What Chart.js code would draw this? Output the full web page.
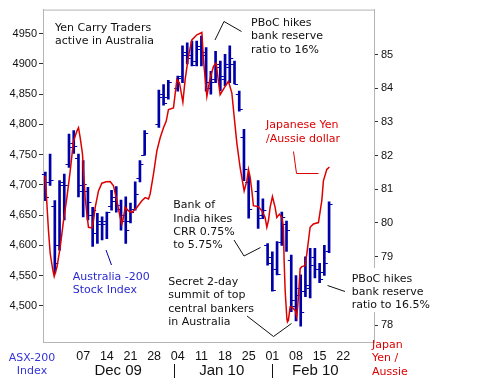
<!DOCTYPE html>
<html>
<head>
<meta charset="utf-8">
<script src="https://cdn.jsdelivr.net/npm/chart.js@4/dist/chart.umd.min.js"></script>
<style>
  body { margin: 0; background: #fff; }
  canvas { display: block; }
</style>
</head>
<body>
<canvas id="graph" width="484" height="387"></canvas>
<script>
// x axis = weekday index, 0 = Mon 23 Nov 2009 (holidays keep their slot)
const weekTickDays = [10, 15, 20, 25, 30, 35, 40, 45, 50, 55, 60, 65];
const weekTickLabels = ["07", "14", "21", "28", "04", "11", "18", "25", "01", "08", "15", "22"];
const monthLabels = ["Dec 09", "Jan 10", "Feb 10"];
const monthLabelDays = [17.4, 39.3, 59.1];
const monthBreakDays = [29.1, 50];

// ASX-200 daily bars
const asxDays = [2, 3, 4, 5, 6, 7, 8, 9, 10, 11, 12, 13, 14, 15, 16, 17, 18, 19, 20, 21, 22, 23,
  26, 27, 28, 30, 31, 32, 33, 34, 35, 36, 37, 38, 39, 40, 41, 42, 43, 44, 45,
  47, 48, 49, 50, 51, 52, 53, 54, 55, 56, 57, 58, 59, 60, 61, 62];
const asxOpen = [4718, 4705, 4665, 4600, 4705, 4735, 4770, 4745, 4690, 4690, 4650, 4620, 4640, 4640, 4665, 4680, 4660, 4650, 4640, 4660, 4712, 4750,
  4800, 4850, 4845, 4860, 4880, 4920, 4915, 4905, 4930, 4915, 4860, 4875, 4895, 4875, 4895, 4900, 4850, 4780, 4705,
  4690, 4650, 4600, 4580, 4560, 4605, 4635, 4575, 4500, 4530, 4525, 4530, 4580, 4560, 4555, 4590];
const asxHigh = [4721, 4751, 4674, 4707, 4718, 4784, 4790, 4751, 4740, 4696, 4663, 4653, 4647, 4655, 4691, 4697, 4675, 4680, 4670, 4705, 4740, 4790,
  4857, 4866, 4873, 4880, 4930, 4935, 4938, 4938, 4946, 4927, 4888, 4921, 4905, 4916, 4930, 4905, 4855, 4792, 4718,
  4707, 4677, 4603, 4589, 4606, 4655, 4640, 4584, 4550, 4551, 4581, 4595, 4595, 4570, 4600, 4672];
const asxLow = [4674, 4699, 4554, 4592, 4642, 4729, 4752, 4680, 4647, 4642, 4598, 4603, 4609, 4611, 4658, 4655, 4625, 4603, 4637, 4658, 4705, 4749,
  4795, 4832, 4842, 4855, 4869, 4900, 4897, 4897, 4897, 4855, 4850, 4869, 4856, 4864, 4869, 4867, 4822, 4707, 4645,
  4628, 4644, 4567, 4524, 4551, 4600, 4590, 4490, 4475, 4466, 4515, 4513, 4546, 4538, 4550, 4588];
const asxClose = [4680, 4708, 4570, 4700, 4699, 4762, 4765, 4700, 4702, 4672, 4658, 4636, 4636, 4655, 4674, 4666, 4640, 4625, 4655, 4685, 4735, 4785,
  4845, 4835, 4870, 4876, 4915, 4910, 4899, 4925, 4920, 4870, 4870, 4900, 4880, 4900, 4910, 4867, 4825, 4727, 4660,
  4645, 4658, 4570, 4526, 4553, 4647, 4625, 4510, 4518, 4490, 4535, 4567, 4560, 4545, 4570, 4668];

// Japanese Yen / Aussie dollar
const yenDays = [1.97, 2.32, 2.66, 3.02, 3.59, 3.87, 4.44, 5.14, 5.84, 6.55,
  7.25, 7.95, 8.67, 9.01, 9.37, 9.85, 10.06, 10.42, 10.78, 11.12,
  11.84, 12.18, 12.54, 13.23, 13.95, 14.86, 15.71, 16.41, 17.12, 17.82,
  18.18, 18.52, 18.88, 19.58, 20.30, 21.35, 22.41, 23.11, 23.81, 24.16,
  24.86, 25.58, 26.28, 26.98, 27.55, 28.03, 29.09, 29.81, 30.36, 31.08,
  31.56, 32.26, 32.98, 34.04, 35.10, 35.43, 36.15, 36.85, 37.55, 38.12,
  38.96, 40.02, 40.72, 41.44, 41.92, 42.49, 43.19, 44.04, 44.61, 44.95,
  45.31, 45.67, 46.00, 47.06, 47.78, 48.48, 48.84, 49.18, 49.53, 50.02,
  50.59, 50.95, 51.50, 52.01, 52.35, 52.49, 52.71, 53.07, 53.19, 53.40,
  53.76, 54.12, 54.82, 55.18, 55.52, 55.88, 56.24, 56.93, 57.29, 57.99,
  58.69, 59.75, 60.46, 60.80, 61.52, 62.07];
const yenValues = [81.40, 80.57, 79.77, 79.09, 78.59, 78.41, 78.68, 79.28, 80.07, 80.75,
  81.54, 82.43, 82.73, 82.83, 82.53, 82.05, 81.54, 80.75, 80.27, 79.87,
  79.85, 80.07, 80.46, 80.95, 81.18, 81.22, 81.23, 81.10, 80.66, 80.16,
  79.97, 80.16, 80.46, 80.36, 80.31, 80.46, 80.66, 80.75, 80.71, 80.86,
  81.45, 82.14, 82.53, 82.83, 83.02, 83.37, 83.42, 84.26, 84.16, 83.59,
  84.26, 84.95, 85.44, 85.59, 85.66, 84.85, 83.76, 84.30, 84.65, 84.75,
  83.81, 84.06, 84.21, 83.86, 83.17, 82.38, 81.64, 80.95, 81.25, 81.59,
  81.35, 80.95, 80.51, 80.48, 80.36, 80.16, 79.87, 80.07, 80.46, 80.78,
  80.46, 80.16, 80.26, 80.16, 79.87, 78.88, 77.99, 77.16, 77.06, 77.11,
  77.50, 77.50, 77.40, 77.20, 77.80, 78.64, 78.70, 78.73, 79.08, 79.87,
  79.97, 80.01, 80.66, 81.25, 81.59, 81.66];

// axis ticks
const asxTickValues = [4500, 4550, 4600, 4650, 4700, 4750, 4800, 4850, 4900, 4950];
const asxTickLabels = ["4,500", "4,550", "4,600", "4,650", "4,700", "4,750", "4,800", "4,850", "4900", "4950"];
// the "78" label sits lower in the original, clear of the PBoC note
const yenTickValues = [76.96, 79, 80, 81, 82, 83, 84, 85];
const yenTickLabels = ["78", "79", "80", "81", "82", "83", "84", "85"];

const BLUE = "#0000a8";
const RED = "#dd0000";
const NOTE_FONT = "11px 'DejaVu Sans'";

// open / close ticks of the bars
const ohlcTicks = {
  id: "ohlcTicks",
  afterDatasetDraw(chart, args) {
    if (args.index !== 0) return;
    const { ctx, scales } = chart;
    ctx.save();
    ctx.strokeStyle = BLUE;
    ctx.lineWidth = 1;
    asxDays.forEach((d, i) => {
      const px = scales.x.getPixelForValue(d);
      const yo = Math.round(scales.y.getPixelForValue(asxOpen[i])) + 0.5;
      const yc = Math.round(scales.y.getPixelForValue(asxClose[i])) + 0.5;
      ctx.beginPath();
      ctx.moveTo(px - 3.5, yo);
      ctx.lineTo(px, yo);
      ctx.moveTo(px, yc);
      ctx.lineTo(px + 3.5, yc);
      ctx.stroke();
    });
    ctx.restore();
  },
};

function polyline(ctx, pts, color) {
  ctx.strokeStyle = color;
  ctx.lineWidth = 1;
  ctx.beginPath();
  pts.forEach((p, i) => (i ? ctx.lineTo(p[0], p[1]) : ctx.moveTo(p[0], p[1])));
  ctx.stroke();
}

function lines(ctx, texts, x, y, color, align) {
  ctx.fillStyle = color;
  ctx.textAlign = align || "left";
  texts.forEach((t, i) => ctx.fillText(t, x, y + i * 13.3));
}

const notes = {
  id: "notes",
  afterDraw(chart) {
    const { ctx, chartArea, scales } = chart;
    ctx.save();
    // top frame line
    ctx.strokeStyle = "#b4b4b4";
    ctx.lineWidth = 1;
    ctx.beginPath();
    ctx.moveTo(chartArea.left, chartArea.top + 0.5);
    ctx.lineTo(chartArea.right, chartArea.top + 0.5);
    ctx.stroke();

    // month row
    ctx.font = "15px 'Liberation Sans'";
    ctx.fillStyle = "#111";
    ctx.textAlign = "center";
    monthLabels.forEach((m, i) => ctx.fillText(m, scales.x.getPixelForValue(monthLabelDays[i]), 375));
    ctx.strokeStyle = "#111";
    monthBreakDays.forEach((d) => {
      const px = Math.round(scales.x.getPixelForValue(d)) + 0.5;
      ctx.beginPath();
      ctx.moveTo(px, 364);
      ctx.lineTo(px, 378);
      ctx.stroke();
    });

    ctx.font = NOTE_FONT;
    lines(ctx, ["Yen Carry Traders", "active in Australia"], 55, 30.7, "#111");
    lines(ctx, ["PBoC hikes", "bank reserve", "ratio to 16%"], 251, 26, "#111");
    polyline(ctx, [[215, 40], [224, 21.5], [241.5, 31.5]], "#111");

    lines(ctx, ["Japanese Yen", "/Aussie dollar"], 266, 128.3, RED);
    polyline(ctx, [[293.5, 151.5], [296.5, 173.5], [318.5, 173.5]], RED);

    lines(ctx, ["Bank of", "India hikes", "CRR 0.75%", "to 5.75%"], 173.3, 208.3, "#111");
    polyline(ctx, [[234, 240], [244, 256], [260.5, 247.5]], "#111");

    lines(ctx, ["Australia -200", "Stock Index"], 72.7, 280, "#2a2ad0");
    polyline(ctx, [[106, 250], [111.5, 265]], BLUE);

    lines(ctx, ["Secret 2-day", "summit of top", "central bankers", "in Australia"], 168.3, 285, "#111");
    polyline(ctx, [[247, 316], [273.5, 336.5], [291.5, 323.5]], "#111");

    ctx.fillStyle = "#fff";
    ctx.fillRect(349, 268, 86, 44);
    lines(ctx, ["PBoC hikes", "bank reserve", "ratio to 16.5%"], 351.7, 281.7, "#111");
    polyline(ctx, [[327.5, 285.5], [345, 291.5]], "#111");

    lines(ctx, ["ASX-200", "Index"], 32, 361, "#3434d8", "center");
    lines(ctx, ["Japan", "Yen /", "Aussie"], 372, 348, RED);
    ctx.restore();
  },
};

const graph = document.getElementById("graph");

new Chart(graph, {
  type: "bar",
  data: {
    datasets: [
      {
        type: "bar",
        data: asxDays.map((d, i) => ({ x: d, y: [asxLow[i], asxHigh[i]] })),
        backgroundColor: BLUE,
        barThickness: 2,
        grouped: false,
        yAxisID: "y",
        order: 2,
      },
      {
        type: "line",
        data: yenDays.map((d, i) => ({ x: d, y: yenValues[i] })),
        borderColor: RED,
        borderWidth: 1.5,
        pointRadius: 0,
        tension: 0,
        yAxisID: "y1",
        order: 1,
      },
    ],
  },
  options: {
    responsive: false,
    animation: false,
    layout: { padding: { top: 8 } },
    plugins: { legend: { display: false }, tooltip: { enabled: false } },
    scales: {
      x: {
        type: "linear",
        min: 1.5,
        max: 71.5,
        offset: false,
        grid: { drawOnChartArea: false, drawTicks: false, offset: false },
        border: { color: "#b4b4b4" },
        afterBuildTicks: (s) => {
          s.ticks = weekTickDays.map((v) => ({ value: v }));
        },
        ticks: {
          autoSkip: false,
          maxRotation: 0,
          padding: 7,
          color: "#111",
          font: { family: "Liberation Sans", size: 12.5 },
          callback: (v, i) => weekTickLabels[i],
        },
        afterFit: (s) => {
          s.height = 45;
        },
      },
      y: {
        position: "left",
        min: 4440,
        max: 4990,
        grid: { drawOnChartArea: false, tickLength: 4, color: "#333" },
        border: { color: "#b4b4b4" },
        afterBuildTicks: (s) => {
          s.ticks = asxTickValues.map((v) => ({ value: v }));
        },
        ticks: {
          padding: 2,
          color: "#111",
          font: { family: "Liberation Sans", size: 11 },
          callback: (v, i) => asxTickLabels[i],
        },
        afterFit: (s) => {
          s.width = 43;
        },
      },
      y1: {
        position: "right",
        min: 76.46,
        max: 86.34,
        grid: { drawOnChartArea: false, tickLength: 4, color: "#333" },
        border: { color: "#b4b4b4" },
        afterBuildTicks: (s) => {
          s.ticks = yenTickValues.map((v) => ({ value: v }));
        },
        ticks: {
          padding: 3,
          color: "#111",
          font: { family: "Liberation Sans", size: 11 },
          callback: (v, i) => yenTickLabels[i],
        },
        afterFit: (s) => {
          s.width = 110;
        },
      },
    },
  },
  plugins: [ohlcTicks, notes],
});
</script>
</body>
</html>
